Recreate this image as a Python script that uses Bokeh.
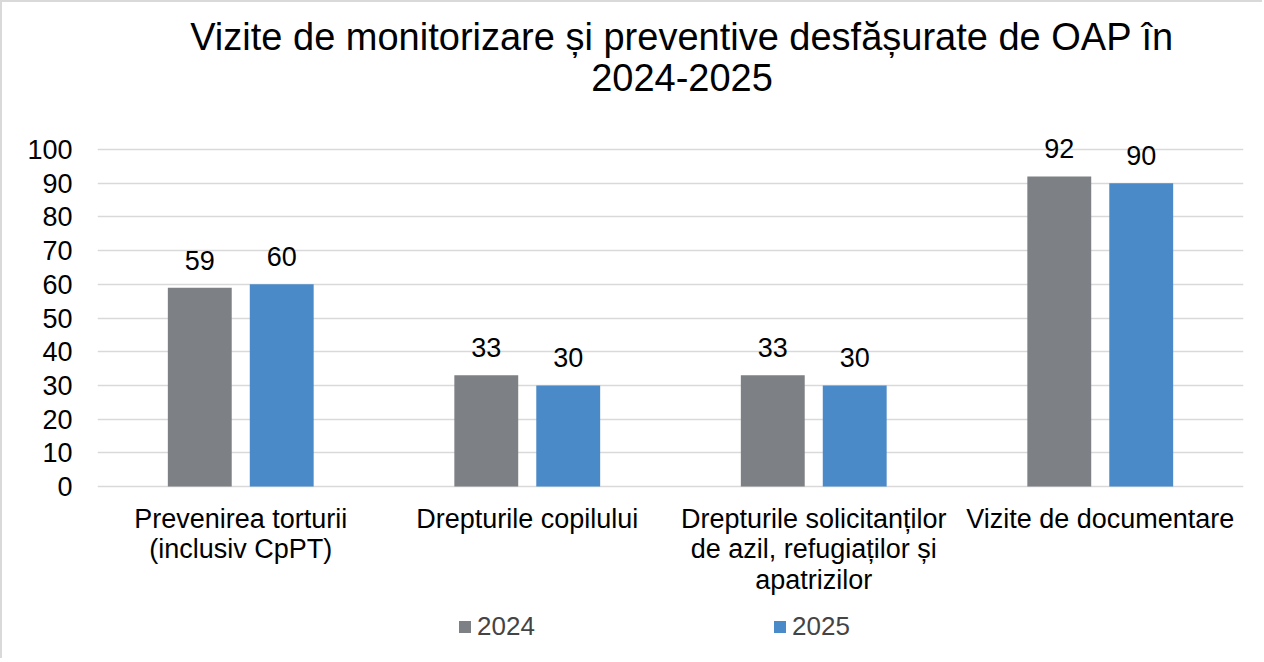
from bokeh.plotting import figure
from bokeh.models import ColumnDataSource, LabelSet, Label, Legend, LegendItem, FactorRange
from bokeh.models import FixedTicker
from bokeh.core.properties import value
from bokeh.transform import dodge
from bokeh.embed import file_html
from bokeh.resources import INLINE

categories = ["Prevenirea torturii\n(inclusiv CpPT)", "Drepturile copilului",
              "Drepturile solicitanților\nde azil, refugiaților și\napatrizilor", "Vizite de documentare"]
vals_2024 = [59, 33, 33, 92]
vals_2025 = [60, 30, 30, 90]
series = ["2024", "2025"]
y_ticks = list(range(0, 101, 10))
title_lines = ["Vizite de monitorizare și preventive desfășurate de OAP în", "2024-2025"]

FONT = "Liberation Sans"
GREY = "#7d8084"
BLUE = "#4a8ac8"
FS = "27px"

W, H = 1262, 658
# layout: page y of value 0 / 100 in the reference
Y0_PAGE, Y100_PAGE = 486, 149
PPU = (Y0_PAGE - Y100_PAGE) / 100.0
TOP_PAGE, BOT_PAGE = 2, 2 + H
y_start = -(BOT_PAGE - Y0_PAGE) / PPU
y_end = (Y0_PAGE - TOP_PAGE) / PPU

p = figure(x_range=FactorRange(*categories), y_range=(y_start, y_end), width=W, height=H,
           output_backend="svg", toolbar_location=None,
           min_border_left=95, min_border_right=21, min_border_top=0, min_border_bottom=0,
           styles={"border-top": "2px solid #d9d9d9", "border-left": "2px solid #d9d9d9"})
p.outline_line_color = None
p.background_fill_color = "white"
p.border_fill_color = "white"

src = ColumnDataSource(dict(cat=categories, v24=vals_2024, v25=vals_2025,
                            t24=[str(v) for v in vals_2024], t25=[str(v) for v in vals_2025]))

r1 = p.vbar(x=dodge("cat", -0.143, range=p.x_range), top="v24", bottom=0, width=0.223, source=src,
            fill_color=GREY, line_color=None)
r2 = p.vbar(x=dodge("cat", 0.143, range=p.x_range), top="v25", bottom=0, width=0.223, source=src,
            fill_color=BLUE, line_color=None)

for tcol, ycol, off in [("t24", "v24", -0.143), ("t25", "v25", 0.143)]:
    p.add_layout(LabelSet(x=dodge("cat", off, range=p.x_range), y=ycol, text=tcol, source=src,
                          y_offset=18, text_align="center", text_baseline="bottom",
                          text_font=value(FONT), text_font_size=FS, text_color="#000000"))

# category labels, one centred row per line
rows = dict(cat=[], y=[], line=[], yoff=[])
for c in categories:
    for i, ln in enumerate(c.split("\n")):
        rows["cat"].append(c)
        rows["y"].append(0)
        rows["line"].append(ln)
        rows["yoff"].append(-17 - 30.5 * i)
cat_src = ColumnDataSource(rows)
p.add_layout(LabelSet(x="cat", y="y", text="line", source=cat_src, y_offset="yoff",
                      text_align="center", text_baseline="top",
                      text_font=value(FONT), text_font_size=FS, text_color="#000000"))

p.xaxis.visible = False
p.yaxis.ticker = FixedTicker(ticks=y_ticks)
p.yaxis.axis_line_color = None
p.yaxis.major_tick_line_color = None
p.yaxis.minor_tick_line_color = None
p.yaxis.major_label_standoff = 19
p.yaxis.major_label_text_font = FONT
p.yaxis.major_label_text_font_size = FS
p.yaxis.major_label_text_color = "#000000"

p.xgrid.grid_line_color = None
p.ygrid.ticker = FixedTicker(ticks=y_ticks)
p.ygrid.grid_line_color = "#d9d9d9"
p.ygrid.grid_line_width = 1.5

# title (synthetic categorical x coordinate, data y coordinate)
title_x = (681.5 - 97) / ((1243 - 97) / len(categories))
for i, t in enumerate(title_lines):
    p.add_layout(Label(x=title_x, y=(Y0_PAGE - (36 + i * 41)) / PPU,
                       text=t, text_align="center", text_baseline="middle",
                       text_font=FONT, text_font_size="38px", text_color="#000000"))

for r, name, lx in [(r1, series[0], 360), (r2, series[1], 675)]:
    lg = Legend(items=[LegendItem(label=name, renderers=[r])], location=(lx, BOT_PAGE - 642),
                orientation="horizontal", padding=0, margin=0, border_line_color=None,
                background_fill_alpha=0, glyph_width=15, glyph_height=15, label_standoff=5,
                label_text_font=FONT, label_text_font_size="26px", label_height=20)
    p.add_layout(lg)

open("out.html", "w").write(file_html(p, INLINE))
